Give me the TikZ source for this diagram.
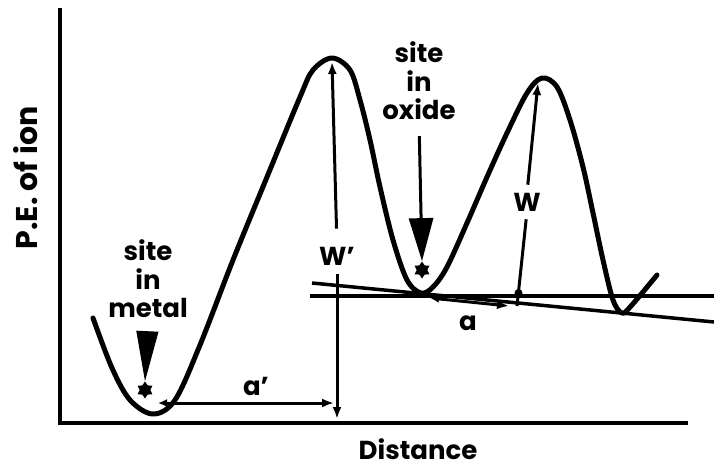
\documentclass[tikz,border=0pt]{standalone}
\usepackage{fontspec}
\setmainfont{Poppins}
\usetikzlibrary{arrows.meta,shapes.geometric}
\begin{document}
\begin{tikzpicture}[x=1pt,y=-1pt,
  lab/.style={font=\bfseries\fontsize{26}{28.5}\selectfont, inner sep=0pt, align=center},
  curve/.style={line width=5pt, line join=round, line cap=round},
  axis/.style={line width=4pt},
  refline/.style={line width=3.5pt},
  dim/.style={line width=3pt},
  tipL/.style={-{Latex[length=12pt,width=9pt]}},
  sitemark/.style={star, star points=6, star point ratio=1.6, fill, minimum size=17pt, inner sep=0pt},
  dotmark/.style={circle, fill, minimum size=8pt, inner sep=0pt}]
\useasboundingbox (0,0) rectangle (714,469);
% axes
\coordinate (o) at (60,423);
\coordinate (ytop) at (60,8);
\coordinate (xend) at (688,423);
\draw[axis] (ytop) -- (o) -- (xend);
\node[lab, rotate=90, font=\bfseries\fontsize{30}{32}\selectfont] (ylab) at (26,178) {P.E. of ion};
\node[lab, font=\bfseries\fontsize{26}{28}\selectfont, anchor=base] (xlab) at (418,459) {Distance};
% reference lines
\coordinate (h1) at (310,296);
\coordinate (h2) at (714,296);
\coordinate (s1) at (312,283);
\coordinate (s2) at (714,322);
\draw[refline] (h1) -- (h2);
\draw[refline] (s1) -- (s2);
% potential curve
\draw[curve] plot[smooth, tension=0.55] coordinates {
  (93,318) (112,368) (130,400) (153,414) (175,400) (200,345)
  (233,260) (267,177) (300,97) (313,70) (332,58) (350,70) (360,100)
  (370,140) (380,187) (393,240) (407,280) (421,293) (433,287) (447,267)
  (467,223) (487,177) (507,133) (527,93) (542,78) (557,87) (570,120)
  (583,167) (593,213) (603,260) (613,300) (622,313) (631,306) (657,275)};
% site in metal
\node[lab] (metal) at (148,279) {site\\in\\metal};
\node[sitemark] (st1) at (145,390) {};
\draw[line width=1pt, -{Triangle[length=50pt,width=22pt]}, shorten <=14pt] (metal.south) -- (st1.north);
% site in oxide
\node[lab] (oxide) at (419,81) {site\\in\\oxide};
\node[sitemark] (st2) at (422,270) {};
\draw[dim, -{Triangle[length=43pt,width=24pt]}, shorten <=16pt] (oxide.south) -- (st2.north);
% W'
\coordinate (p1) at (332,62);
\coordinate (p1b) at (337,419);
\node[lab] (wp) at (337,256) {W'};
\draw[dim, tipL, shorten <=18pt] (wp.north) -- (p1);
\draw[dim, tipL, shorten <=9pt] (wp.south) -- (p1b);
% a'
\coordinate (a1) at (158,403);
\coordinate (a2) at (334,403);
\draw[dim, {Latex[length=9pt,width=8pt]}-{Latex[length=12pt,width=9pt]}] (a1) -- (a2);
\node[lab] (apl) at (256,386) {a'};
% W
\coordinate (p2) at (538,83);
\coordinate (wb) at (517,306);
\node[lab] (wl) at (527,202) {W};
\draw[dim, tipL, shorten <=8pt] (wl.north) -- (p2);
\draw[dim, shorten <=8pt] (wl.south) -- (wb);
\node[dotmark] (dot) at (518.5,293) {};
% a
\coordinate (b1) at (430,298);
\coordinate (b2) at (509,306);
\draw[dim, {Latex[length=9pt,width=8pt]}-{Latex[length=12pt,width=9pt]}] (b1) -- (b2);
\node[lab] (al) at (468,323) {a};
\end{tikzpicture}
\end{document}
